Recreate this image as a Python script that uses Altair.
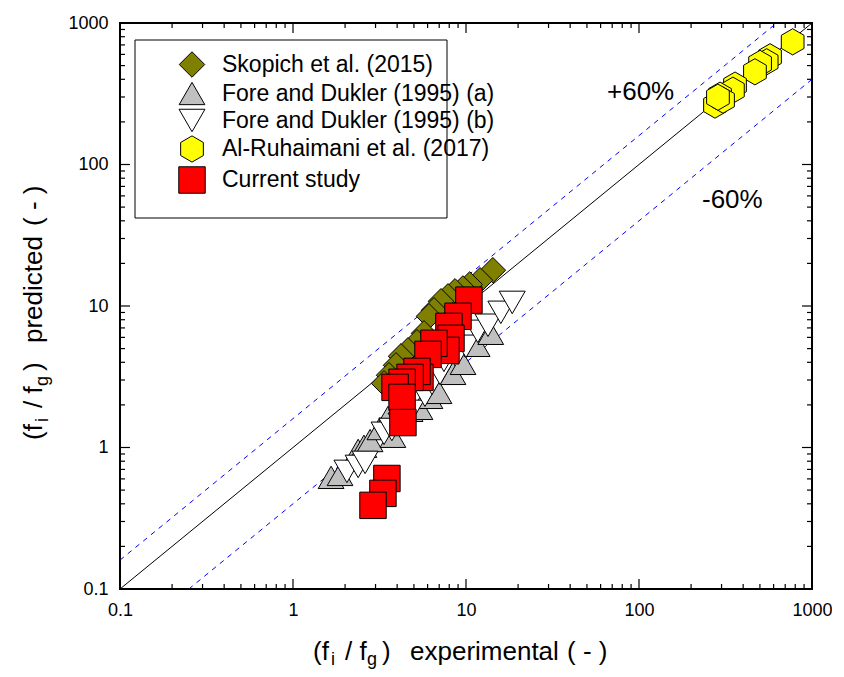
import altair as alt
import pandas as pd

series_names = ["Skopich et al. (2015)", "Fore and Dukler (1995) (a)",
                "Fore and Dukler (1995) (b)", "Al-Ruhaimani et al. (2017)", "Current study"]

skopich_x = [14.3, 12.05, 10.5, 9.6, 8.64, 7.87, 7.17, 6.53, 6.11, 5.72, 5.21, 4.62, 4.21, 3.94, 3.59, 3.36]
skopich_y = [17.9, 15.2, 14.2, 13.3, 12.7, 11.7, 10.8, 9.33, 8.46, 6.41, 5.54, 4.86, 4.41, 3.81, 3.24, 2.84]

fore_a_x = [1.66, 1.87, 2.38, 2.57, 2.79, 3.18, 3.54, 3.78, 4.75, 5.42, 6.19, 6.98, 8.41, 9.61, 11.6, 13.9]
fore_a_y = [0.615, 0.645, 0.954, 1.02, 1.12, 1.36, 1.63, 1.20, 1.83, 1.89, 2.26, 2.45, 3.34, 3.93, 5.27, 6.41]

fore_b_x = [2.05, 2.38, 2.61, 3.36, 3.73, 4.21, 4.81, 5.79, 6.36, 7.08, 7.46, 8.99, 10.0, 11.7, 13.4, 15.9, 18.5]
fore_b_y = [0.678, 0.735, 0.785, 1.26, 1.34, 1.46, 1.80, 2.34, 2.84, 3.34, 4.13, 4.63, 5.19, 6.62, 7.31, 9.02, 10.6]

alruh_x = [773, 572, 547, 501, 468, 359, 349, 294, 275, 306, 286]
alruh_y = [736, 577, 532, 518, 452, 364, 335, 309, 263, 285, 299]

current_x = [10.4, 8.99, 7.97, 8.19, 7.66, 6.53, 6.03, 5.42, 5.21, 4.75, 4.27, 3.89, 4.27, 4.32, 3.49, 3.31, 2.90]
current_y = [11.0, 8.46, 7.18, 5.91, 4.86, 5.45, 4.55, 3.13, 3.45, 3.13, 2.89, 2.66, 2.26, 1.50, 0.604, 0.474, 0.390]

major_ticks = [0.1, 1, 10, 100, 1000]
minor_ticks = [m * d for d in [0.1, 1, 10, 100] for m in range(2, 10)]

solid_line_x = [0.1, 1000]
solid_line_y = [0.1, 1000]
upper_line_x = [0.1, 625]
upper_line_y = [0.16, 1000]
lower_line_x = [0.25, 1000]
lower_line_y = [0.1, 400]

W, H = 692, 566
FONT = "Liberation Sans"

rows = []
for name, xs_, ys_ in zip(series_names,
                          [skopich_x, fore_a_x, fore_b_x, alruh_x, current_x],
                          [skopich_y, fore_a_y, fore_b_y, alruh_y, current_y]):
    for a, b in zip(xs_, ys_):
        rows.append({"series": name, "x": a, "y": b})
pts = pd.DataFrame(rows)

hexagon = "M0,-1L0.866,-0.5L0.866,0.5L0,1L-0.866,0.5L-0.866,-0.5Z"

xs = alt.Scale(type="log", domain=[0.1, 1000], nice=False)
ys = alt.Scale(type="log", domain=[0.1, 1000], nice=False)

axis_common = dict(title=None, ticks=False, domain=False, grid=False, values=major_ticks,
                   format="~g", labelFont=FONT, labelFontSize=18, labelColor="black",
                   labelFlush=False, labelOverlap=False, labelPadding=12)
x_axis = alt.Axis(**axis_common)
y_axis = alt.Axis(**axis_common)

leg = alt.Legend(title=None, orient="none", legendX=58, legendY=28, padding=0,
                 labelFont=FONT, labelFontSize=23, labelColor="black", labelOffset=16,
                 rowPadding=-1, symbolStrokeWidth=1, labelLimit=400)

points = alt.Chart(pts).mark_point(filled=True, opacity=1, strokeWidth=1).encode(
    x=alt.X("x:Q", scale=xs, axis=x_axis),
    y=alt.Y("y:Q", scale=ys, axis=y_axis),
    fill=alt.Fill("series:N", scale=alt.Scale(domain=series_names,
                  range=["#808000", "#c0c0c0", "#ffffff", "#ffff00", "#ff0000"]), legend=leg),
    shape=alt.Shape("series:N", scale=alt.Scale(domain=series_names,
                    range=["diamond", "triangle-up", "triangle-down", hexagon, "square"]), legend=leg),
    size=alt.Size("series:N", scale=alt.Scale(domain=series_names,
                  range=[650, 700, 700, 530, 340]), legend=leg),
    stroke=alt.Stroke("series:N", scale=alt.Scale(domain=series_names,
                      range=["black"] * 5), legend=leg),
)


def line_layer(lx, ly, color, dash=None):
    df = pd.DataFrame({"x": lx, "y": ly})
    kw = dict(color=color, strokeWidth=1, clip=True)
    if dash:
        kw["strokeDash"] = dash
    return alt.Chart(df).mark_line(**kw).encode(
        x=alt.X("x:Q", scale=xs, axis=x_axis), y=alt.Y("y:Q", scale=ys, axis=y_axis))


lines = [line_layer(solid_line_x, solid_line_y, "black"),
         line_layer(upper_line_x, upper_line_y, "#0000ff", [5, 5]),
         line_layer(lower_line_x, lower_line_y, "#0000ff", [5, 5])]


def tick_layer(vals, side, length):
    df = pd.DataFrame({"x": vals, "y": vals})
    base = alt.Chart(df).mark_rule(color="black", strokeWidth=1.2)
    if side == "bottom":
        return base.encode(x=alt.X("x:Q", scale=xs, axis=x_axis), y=alt.value(H), y2=alt.value(H - length))
    if side == "top":
        return base.encode(x=alt.X("x:Q", scale=xs, axis=x_axis), y=alt.value(0), y2=alt.value(length))
    if side == "left":
        return base.encode(y=alt.Y("y:Q", scale=ys, axis=y_axis), x=alt.value(0), x2=alt.value(length))
    return base.encode(y=alt.Y("y:Q", scale=ys, axis=y_axis), x=alt.value(W), x2=alt.value(W - length))


ticks = []
for side in ["bottom", "top", "left", "right"]:
    ticks.append(tick_layer(major_ticks, side, 10))
    ticks.append(tick_layer(minor_ticks, side, 5))

one = alt.InlineData(values=[{}])


def txt(s, x, y, size=26, angle=0):
    return alt.Chart(one).mark_text(text=s, font=FONT, fontSize=size, color="black",
                                    align="left", baseline="alphabetic", angle=angle).encode(
        x=alt.value(x), y=alt.value(y))


box = alt.Chart(one).mark_rect(fill="white", stroke="black", strokeWidth=1).encode(
    x=alt.value(15), x2=alt.value(327), y=alt.value(17), y2=alt.value(195))

YS = 417
texts = [
    txt("+60%", 487, 77), txt("-60%", 582, 185),
    # x title
    txt("(f", 193, 637), txt("i", 211, 642, 18), txt("/ f", 225, 637), txt("g", 247, 642, 18),
    txt(")", 262, 637), txt("experimental", 290, 637), txt("( - )", 447, 637),
    # y title
    txt("(f", -78, YS, 26, 270), txt("i", -72, YS - 18, 18, 270), txt("/ f", -78, YS - 32, 26, 270),
    txt("g", -72, YS - 54, 18, 270), txt(")", -78, YS - 69, 26, 270),
    txt("predicted", -78, YS - 97, 26, 270), txt("( - )", -78, YS - 214, 26, 270),
]

chart = alt.layer(box, *lines, points, *ticks, *texts).properties(
    width=W, height=H,
    padding={"left": 112, "top": 15, "right": 20, "bottom": 80},
    autosize=alt.AutoSizeParams(type="none"),
).configure_view(stroke="black", strokeWidth=2)

chart.save("out.html", embed_options={"renderer": "svg", "actions": False})
